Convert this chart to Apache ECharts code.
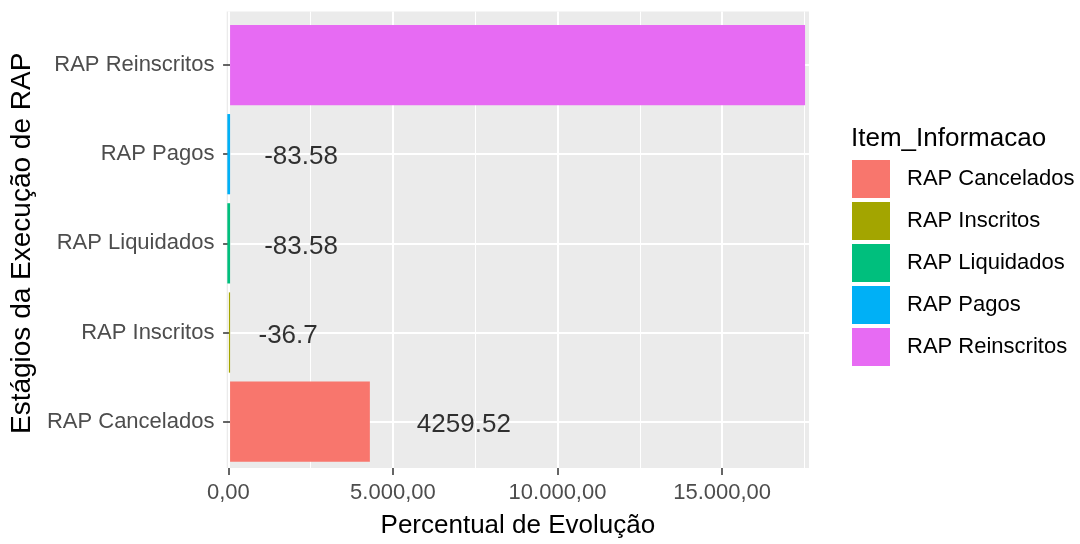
<!DOCTYPE html>
<html>
<head>
<meta charset="utf-8">
<script src="https://cdn.jsdelivr.net/npm/echarts@6/dist/echarts.min.js"></script>
<style>html,body{margin:0;padding:0;background:#fff;}#c{width:1080px;height:544px;}</style>
</head>
<body>
<div id="c"></div>
<script>
// ---- data ----
const categories = ['RAP Cancelados', 'RAP Inscritos', 'RAP Liquidados', 'RAP Pagos', 'RAP Reinscritos'];
const values = [4259.52, -36.7, -83.58, -83.58, 17520];
const colors = ['#F8766D', '#A3A500', '#00BF7D', '#00B0F6', '#E76BF3'];
const majorTicks = [0, 5000, 10000, 15000];
const minorTicks = [2500, 7500, 12500, 17500];
const xMin = -50, xMax = 17640;

const FONT = '"Liberation Sans", Arial, sans-serif';
const LABEL_SIZE = 26;

function brFmt(v) {
  const s = Math.abs(v).toFixed(2);
  let [i, d] = s.split('.');
  i = i.replace(/\B(?=(\d{3})+(?!\d))/g, '.');
  return (v < 0 ? '-' : '') + i + ',' + d;
}
const ctx = document.createElement('canvas').getContext('2d');
ctx.font = LABEL_SIZE + 'px ' + FONT;
function textW(t) { return ctx.measureText(t).width; }

const L = 226.7, R = 1080 - 809, PT = 11.5, PB = 544 - 475.2;
const unit = (475.2 - 11.5) / 5.2;
const gbTop = PT + 0.6 * unit, gbBottom = PB + 0.6 * unit;

const barSeries = categories.map((name, k) => ({
  name: name,
  type: 'bar',
  xAxisIndex: 2,
  yAxisIndex: 1,
  stack: 'all',
  barWidth: '90%',
  clip: false,
  itemStyle: { color: colors[k] },
  emphasis: { disabled: true },
  data: categories.map((c, j) => (j === k ? values[j] : '-'))
}));

const labelData = [];
values.forEach((v, j) => {
  if (v > xMax * 0.9) return; // label falls outside panel (clipped in original)
  const t = String(v);
  labelData.push({
    value: [v, categories[j]],
    label: { show: true, formatter: t, position: 'right', distance: textW(t) * 0.5, offset: [0, 3] }
  });
});

const chart = echarts.init(document.getElementById('c'), null, { renderer: 'canvas' });
chart.setOption({
  backgroundColor: '#ffffff',
  animation: false,
  textStyle: { fontFamily: FONT },
  title: {
    text: 'Item_Informacao', left: 851, top: 126, padding: 0,
    textStyle: { fontSize: 26, fontWeight: 'normal', color: '#000', fontFamily: FONT }
  },
  legend: {
    orient: 'vertical', left: 852, top: 160, padding: 0,
    icon: 'rect', itemWidth: 38, itemHeight: 38, itemGap: 4,
    selectedMode: false,
    data: categories,
    textStyle: { fontSize: 22, color: '#000', fontFamily: FONT, padding: [0, 0, 0, 12] }
  },
  grid: [
    { left: L, right: R, top: PT, bottom: PB, show: true, backgroundColor: '#EBEBEB', borderWidth: 0, z: -1 },
    { left: L, right: R, top: gbTop, bottom: gbBottom, show: false }
  ],
  xAxis: [
    {
      gridIndex: 0, type: 'value', min: xMin, max: xMax, z: 1,
      axisLine: { show: false },
      axisTick: { show: true, customValues: majorTicks, length: 7, lineStyle: { color: '#333', width: 1.5 } },
      axisLabel: { show: true, customValues: majorTicks, formatter: brFmt, margin: 14, fontSize: 22, color: '#4D4D4D', fontFamily: FONT },
      splitLine: { show: true, lineStyle: { color: '#FFFFFF', width: 2 } },
      name: 'Percentual de Evolução', nameLocation: 'middle', nameGap: 45,
      nameTextStyle: { fontSize: 26, color: '#000', fontFamily: FONT }
    },
    {
      gridIndex: 0, type: 'value', min: xMin, max: xMax, z: 1,
      axisLine: { show: false },
      axisTick: { show: false, customValues: minorTicks },
      axisLabel: { show: false },
      splitLine: { show: true, lineStyle: { color: '#FFFFFF', width: 1 } }
    },
    {
      gridIndex: 1, type: 'value', min: xMin, max: xMax, show: false
    }
  ],
  yAxis: [
    { gridIndex: 0, type: 'value', min: 0, max: 1, show: false, splitLine: { show: false } },
    {
      gridIndex: 1, type: 'category', data: categories, boundaryGap: false, z: 1,
      axisLine: { show: false },
      axisTick: { show: true, length: 7, lineStyle: { color: '#333', width: 1.5 } },
      axisLabel: { margin: 14, fontSize: 22, color: '#4D4D4D', fontFamily: FONT },
      splitLine: { show: true, lineStyle: { color: '#FFFFFF', width: 2 } },
      name: 'Estágios da Execução de RAP', nameLocation: 'middle', nameRotate: 90, nameGap: 187,
      nameTextStyle: { fontSize: 28, color: '#000', fontFamily: FONT }
    }
  ],
  series: barSeries.concat([{
    name: '__labels',
    type: 'scatter',
    xAxisIndex: 2,
    yAxisIndex: 1,
    symbolSize: 0,
    silent: true,
    clip: false,
    label: { fontSize: LABEL_SIZE, color: '#000', fontFamily: FONT },
    data: labelData,
    z: 5
  }])
});
</script>
</body>
</html>
